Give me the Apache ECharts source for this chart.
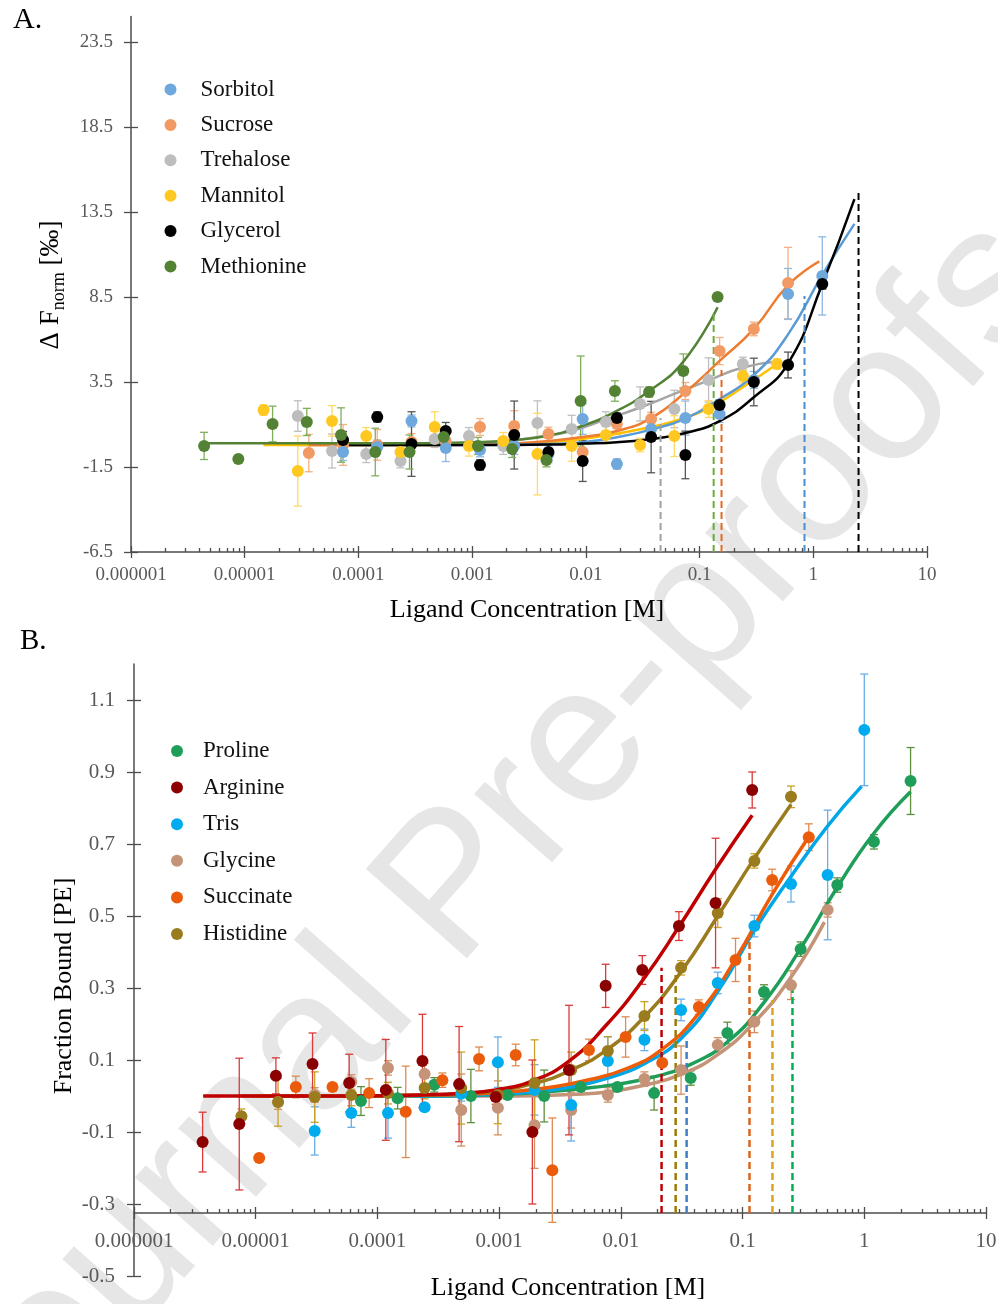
<!DOCTYPE html>
<html>
<head>
<meta charset="utf-8">
<title>Ligand binding curves</title>
<script src="https://cdn.jsdelivr.net/npm/echarts@6.0.0/dist/echarts.min.js"></script>
<style>
  html, body { margin: 0; padding: 0; background: #fff; }
  #chart { width: 998px; height: 1304px; }
</style>
</head>
<body>
<div id="chart"></div>
<script>
'use strict';

// ---- axis ticks ----
var decadeTicks = [0.000001, 0.00001, 0.0001, 0.001, 0.01, 0.1, 1, 10];
var yTicksA = [-6.5, -1.5, 3.5, 8.5, 13.5, 18.5, 23.5];
var yTicksB = [-0.5, -0.3, -0.1, 0.1, 0.3, 0.5, 0.7, 0.9, 1.1];

// ---- panel A (delta Fnorm, per mille) ----
var glycerolConc = [1.2, 0.6, 0.3, 0.15, 0.075, 0.0375, 0.01875, 0.009375, 0.0046875, 0.0023438, 0.0011719, 0.00058594, 0.00029297, 0.00014648, 0.000073242];
var glycerolVal = [9.26, 4.5, 3.5, 2.15, -0.79, 0.26, 1.38, -1.15, -0.62, 0.38, -1.38, 0.62, -0.15, 1.44, 0.09];
var glycerolErr = [0.3, 0.76, 1.4, 0.3, 1.4, 2.1, 0.3, 1.2, 0.5, 2.0, 0.3, 0.5, 1.9, 0.3, 0.5];
var glycerolFitConc = [0.000073, 0.000146, 0.000293, 0.000586, 0.00117, 0.00234, 0.00469, 0.00938, 0.01875, 0.0375, 0.075, 0.15, 0.3, 0.6, 1.2, 2.3];
var glycerolFitVal = [-0.2, -0.2, -0.2, -0.2, -0.2, -0.2, -0.18, -0.12, -0.04, 0.15, 0.5, 1.2, 2.6, 4.6, 9.26, 14.26];

var sorbitolConc = [1.2, 0.6, 0.3, 0.15, 0.075, 0.0375, 0.01875, 0.009375, 0.0046875, 0.0023438, 0.0011719, 0.00058594, 0.00029297, 0.00014648, 0.000073242];
var sorbitolVal = [9.74, 8.68, 3.62, 1.62, 1.38, 0.74, -1.32, 1.32, -0.74, -0.26, -0.5, -0.38, 1.21, -0.32, -0.62];
var sorbitolErr = [2.3, 1.5, 0.5, 0.5, 1.0, 0.5, 0.3, 0.9, 0.5, 0.5, 0.4, 0.8, 0.35, 0.4, 0.5];
var sorbitolFitConc = [0.000073, 0.000146, 0.000293, 0.000586, 0.00117, 0.00234, 0.00469, 0.00938, 0.01875, 0.0375, 0.075, 0.15, 0.3, 0.6, 1.2, 2.3];
var sorbitolFitVal = [-0.2, -0.2, -0.2, -0.2, -0.2, -0.18, -0.15, -0.05, 0.25, 0.7, 1.35, 2.5, 3.9, 6.3, 9.8, 12.8];

var sucroseConc = [0.6, 0.3, 0.15, 0.075, 0.0375, 0.01875, 0.009375, 0.0046875, 0.0023438, 0.0011719, 0.00058594, 0.00029297, 0.00014648, 0.000073242, 0.000036621];
var sucroseVal = [9.32, 6.62, 5.32, 2.97, 1.32, 1.03, -0.62, 0.44, 0.91, 0.85, 0.0, -0.03, -0.2, -0.2, -0.68];
var sucroseErr = [2.1, 0.4, 0.8, 0.5, 0.4, 0.6, 0.5, 0.4, 0.9, 0.5, 0.4, 0.5, 0.9, 1.2, 1.1];
var sucroseFitConc = [0.0000366, 0.000073, 0.000146, 0.000293, 0.000586, 0.00117, 0.00234, 0.00469, 0.00938, 0.01875, 0.0375, 0.075, 0.15, 0.3, 0.6, 1.13];
var sucroseFitVal = [-0.2, -0.2, -0.2, -0.2, -0.2, -0.18, -0.12, 0.03, 0.26, 0.62, 1.38, 2.9, 4.74, 6.62, 9.2, 10.6];

var trehaloseConc = [0.24, 0.12, 0.06, 0.03, 0.015, 0.0075, 0.00375, 0.001875, 0.0009375, 0.00046875, 0.00023438, 0.00011719, 0.000058594, 0.000029297];
var trehaloseVal = [4.56, 3.62, 1.91, 2.21, 1.15, 0.74, 1.09, -0.26, 0.32, 0.15, -1.15, -0.74, -0.56, 1.5];
var trehaloseErr = [0.4, 1.3, 1.1, 1.0, 0.6, 0.8, 1.3, 0.5, 0.5, 0.5, 0.4, 0.5, 1.0, 0.9];
var trehaloseFitConc = [0.0000293, 0.0000586, 0.000117, 0.000234, 0.000469, 0.000938, 0.001875, 0.00375, 0.0075, 0.015, 0.03, 0.06, 0.12, 0.24, 0.48];
var trehaloseFitVal = [-0.2, -0.2, -0.2, -0.2, -0.18, -0.12, 0.0, 0.26, 0.62, 1.3, 2.0, 2.8, 3.6, 4.35, 4.7];

var mannitolConc = [0.48, 0.24, 0.12, 0.06, 0.03, 0.015, 0.0075, 0.00375, 0.001875, 0.0009375, 0.00046875, 0.00023438, 0.00011719, 0.000058594, 0.000029297, 0.000014648];
var mannitolVal = [4.56, 3.85, 1.91, 0.32, -0.21, 0.38, -0.26, -0.74, 0.03, -0.26, 0.85, -0.62, 0.32, 1.21, -1.74, 1.85];
var mannitolErr = [0.3, 0.4, 0.5, 1.2, 0.4, 0.5, 0.9, 2.4, 0.5, 0.6, 0.9, 0.4, 0.5, 0.9, 2.06, 0.3];
var mannitolFitConc = [0.0000146, 0.0000293, 0.0000586, 0.000117, 0.000234, 0.000469, 0.000938, 0.001875, 0.00375, 0.0075, 0.015, 0.03, 0.06, 0.12, 0.24, 0.48];
var mannitolFitVal = [-0.2, -0.2, -0.2, -0.2, -0.2, -0.2, -0.18, -0.15, -0.08, 0.07, 0.35, 0.72, 1.2, 1.95, 3.2, 4.56];

var methionineConc = [0.144, 0.072, 0.036, 0.018, 0.009, 0.0045, 0.00225, 0.001125, 0.0005625, 0.00028125, 0.00014063, 0.000070313, 0.000035156, 0.000017578, 0.0000087891, 0.0000043945];
var methionineVal = [8.5, 4.15, 2.91, 2.97, 2.38, -1.09, -0.44, -0.26, 0.26, -0.62, -0.62, 0.38, 1.15, 1.03, -1.03, -0.26];
var methionineErr = [0.2, 1.0, 0.3, 0.6, 2.65, 0.4, 0.5, 0.5, 0.5, 1.0, 1.4, 1.6, 0.8, 1.05, 0.2, 0.8];
var methionineFitConc = [0.0000044, 0.0000088, 0.0000176, 0.0000352, 0.0000703, 0.000141, 0.000281, 0.000563, 0.001125, 0.00225, 0.0045, 0.009, 0.018, 0.036, 0.072, 0.144];
var methionineFitVal = [-0.1, -0.1, -0.1, -0.1, -0.1, -0.1, -0.1, -0.08, -0.03, 0.08, 0.32, 0.88, 1.74, 2.97, 4.7, 7.9];

// Kd markers of panel A: gray, green, orange, blue, black
var kdA = [0.0454, 0.133, 0.156, 0.837, 2.5];
var kdTopA = [1.38, 7.6, 4.2, 8.56, 14.7];

// ---- panel B (fraction bound) ----
var prolineConc = [2.4, 1.2, 0.6, 0.3, 0.15, 0.075, 0.0375, 0.01875, 0.009375, 0.0046875, 0.0023438, 0.0011719, 0.00058594, 0.00029297, 0.00014648, 0.000073242];
var prolineVal = [0.875, 0.706, 0.586, 0.408, 0.289, 0.175, 0.05, 0.008, 0.025, 0.025, 0.0, 0.003, 0.0, 0.031, -0.006, -0.014];
var prolineErr = [0.093, 0.02, 0.02, 0.02, 0.02, 0.03, 0.02, 0.047, 0.01, 0.01, 0.072, 0.01, 0.074, 0.02, 0.03, 0.04];
var prolineFitConc = [0.000073, 0.000146, 0.000293, 0.000586, 0.00117, 0.00234, 0.00469, 0.00938, 0.01875, 0.0375, 0.075, 0.15, 0.3, 0.6, 1.2, 2.4];
var prolineFitVal = [0.0, 0.0, 0.0, 0.002, 0.005, 0.011, 0.02, 0.033, 0.053, 0.088, 0.15, 0.26, 0.41, 0.58, 0.73, 0.845];

var arginineConc = [0.12, 0.06, 0.03, 0.015, 0.0075, 0.00375, 0.001875, 0.0009375, 0.00046875, 0.00023438, 0.00011719, 0.000058594, 0.000029297, 0.000014648, 0.0000073242, 0.0000036621];
var arginineVal = [0.85, 0.536, 0.472, 0.35, 0.306, 0.072, -0.1, -0.003, 0.033, 0.097, 0.017, 0.036, 0.089, 0.056, -0.078, -0.128];
var arginineErr = [0.05, 0.18, 0.04, 0.04, 0.06, 0.18, 0.2, 0.02, 0.16, 0.13, 0.14, 0.08, 0.086, 0.05, 0.183, 0.083];
var arginineFitConc = [0.0000037, 0.0000073, 0.0000146, 0.0000293, 0.0000586, 0.000117, 0.000234, 0.000469, 0.000938, 0.001875, 0.00375, 0.0075, 0.015, 0.03, 0.06, 0.12];
var arginineFitVal = [0.0, 0.0, 0.0, 0.0, 0.0, 0.001, 0.003, 0.007, 0.017, 0.042, 0.097, 0.195, 0.32, 0.47, 0.63, 0.78];

var trisConc = [1.0, 0.5, 0.25, 0.125, 0.0625, 0.03125, 0.015625, 0.0078125, 0.0039063, 0.0019531, 0.00097656, 0.00048828, 0.00024414, 0.00012207, 0.000061035, 0.000030518];
var trisVal = [1.017, 0.614, 0.589, 0.472, 0.314, 0.239, 0.156, 0.097, -0.025, 0.017, 0.094, 0.006, -0.031, -0.047, -0.047, -0.097];
var trisErr = [0.155, 0.18, 0.05, 0.03, 0.03, 0.03, 0.03, 0.067, 0.1, 0.07, 0.07, 0.02, 0.01, 0.07, 0.04, 0.067];
var trisFitConc = [0.0000305, 0.000061, 0.000122, 0.000244, 0.000488, 0.000977, 0.00195, 0.0039, 0.0078, 0.0156, 0.03125, 0.0625, 0.125, 0.25, 0.5, 0.95];
var trisFitVal = [0.0, 0.0, 0.0, 0.0, 0.002, 0.005, 0.012, 0.025, 0.05, 0.09, 0.16, 0.29, 0.46, 0.61, 0.75, 0.86];

var glycineConc = [0.5, 0.25, 0.125, 0.0625, 0.03125, 0.015625, 0.0078125, 0.0039063, 0.0019531, 0.00097656, 0.00048828, 0.00024414, 0.00012207, 0.000061035, 0.000030518, 0.000015259];
var glycineVal = [0.517, 0.308, 0.206, 0.142, 0.072, 0.047, 0.003, -0.039, -0.081, -0.033, -0.039, 0.061, 0.078, 0.039, 0.003, -0.017];
var glycineErr = [0.02, 0.04, 0.03, 0.02, 0.067, 0.02, 0.02, 0.05, 0.12, 0.075, 0.1, 0.03, 0.02, 0.02, 0.02, 0.02];
var glycineFitConc = [0.0000153, 0.0000305, 0.000061, 0.000122, 0.000244, 0.000488, 0.000977, 0.00195, 0.0039, 0.0078, 0.0156, 0.03125, 0.0625, 0.125, 0.25, 0.47];
var glycineFitVal = [0.0, 0.0, 0.0, 0.0, 0.0, 0.0, 0.0, 0.001, 0.004, 0.011, 0.03, 0.06, 0.115, 0.205, 0.33, 0.483];

var succinateConc = [0.35, 0.175, 0.0875, 0.04375, 0.021875, 0.010938, 0.0054688, 0.0027344, 0.0013672, 0.00068359, 0.0003418, 0.0001709, 0.000085449, 0.000042725, 0.000021362, 0.000010681];
var succinateVal = [0.719, 0.6, 0.378, 0.247, 0.092, 0.164, 0.128, -0.206, 0.114, 0.103, 0.044, -0.044, 0.008, 0.025, 0.025, -0.172];
var succinateErr = [0.037, 0.03, 0.06, 0.02, 0.01, 0.056, 0.03, 0.145, 0.03, 0.033, 0.02, 0.127, 0.04, 0.01, 0.03, 0.01];
var succinateFitConc = [0.0000107, 0.0000214, 0.0000427, 0.0000854, 0.000171, 0.000342, 0.000684, 0.00137, 0.00273, 0.00547, 0.0109, 0.0219, 0.0438, 0.0875, 0.175, 0.35];
var succinateFitVal = [0.0, 0.0, 0.0, 0.0, 0.001, 0.003, 0.006, 0.013, 0.025, 0.045, 0.075, 0.13, 0.23, 0.38, 0.56, 0.72];

var histidineConc = [0.25, 0.125, 0.0625, 0.03125, 0.015625, 0.0078125, 0.0039063, 0.0019531, 0.00097656, 0.00048828, 0.00024414, 0.00012207, 0.000061035, 0.000030518, 0.000015259, 0.0000076294];
var histidineVal = [0.831, 0.653, 0.508, 0.356, 0.222, 0.125, 0.072, 0.036, 0.003, 0.022, 0.022, 0.008, 0.003, -0.003, -0.017, -0.056];
var histidineErr = [0.03, 0.02, 0.04, 0.02, 0.04, 0.04, 0.05, 0.12, 0.08, 0.1, 0.03, 0.03, 0.03, 0.07, 0.067, 0.02];
var histidineFitConc = [0.0000076, 0.0000153, 0.0000305, 0.000061, 0.000122, 0.000244, 0.000488, 0.000977, 0.00195, 0.0039, 0.0078, 0.0156, 0.03125, 0.0625, 0.125, 0.25];
var histidineFitVal = [0.0, 0.0, 0.0, 0.0, 0.001, 0.003, 0.006, 0.015, 0.035, 0.072, 0.13, 0.22, 0.345, 0.5, 0.66, 0.81];

// Kd markers of panel B: arginine, histidine, tris, succinate, glycine, proline
var kdB = [0.0216, 0.0282, 0.0347, 0.114, 0.176, 0.257];
var kdTopB = [0.356, 0.342, 0.164, 0.447, 0.267, 0.322];

// ---- layout ----
var SERIF = '"Liberation Serif", "Times New Roman", serif';
var AXIS = '#4d4d4d';
var LABEL = '#595959';
var yMinA = -6.5, yMaxA = 25;
var yMinB = -0.5, yMaxB = 1.2, crossB = -0.325;
var gridA = { left: 131, width: 796, top: 16.5, height: 535.5 };
var gridB = { left: 134, width: 852, top: 664, height: 612 };

var minorTicks = [];
decadeTicks.slice(0, -1).forEach(function (d) {
    for (var k = 2; k <= 9; k++) minorTicks.push(+(d * k).toPrecision(3));
});

function decimalLabel(v) {
    var e = Math.round(Math.log(v) / Math.LN10);
    return e >= 0 ? String(Math.pow(10, e)) : '0.' + new Array(-e).join('0') + '1';
}

function concAxes(gridIndex, offset, fontSize, margin) {
    var tickLine = { color: AXIS, width: 1.3 };
    var base = {
        gridIndex: gridIndex, type: 'log', logBase: 10, min: 0.000001, max: 10,
        position: 'bottom', offset: offset, splitLine: { show: false }
    };
    return [
        Object.assign({}, base, {
            axisLine: { show: true, onZero: false, lineStyle: { color: AXIS, width: 1.5 } },
            axisTick: { show: true, customValues: decadeTicks, length: 6, lineStyle: tickLine },
            axisLabel: { show: true, customValues: decadeTicks, formatter: decimalLabel, color: LABEL,
                fontFamily: SERIF, fontSize: fontSize, margin: margin }
        }),
        Object.assign({}, base, {
            axisLine: { show: false, onZero: false },
            axisTick: { show: true, inside: true, customValues: decadeTicks, length: 6, lineStyle: tickLine },
            axisLabel: { show: false }
        }),
        Object.assign({}, base, {
            axisLine: { show: false, onZero: false },
            axisTick: { show: true, inside: true, customValues: minorTicks, length: 4, lineStyle: tickLine },
            axisLabel: { show: false }
        })
    ];
}

function valueAxes(gridIndex, min, max, ticks, fontSize, margin) {
    var tickLine = { color: AXIS, width: 1.3 };
    var base = { gridIndex: gridIndex, type: 'value', min: min, max: max, position: 'left', splitLine: { show: false } };
    return [
        Object.assign({}, base, {
            axisLine: { show: true, onZero: false, lineStyle: { color: AXIS, width: 1.5 } },
            axisTick: { show: true, customValues: ticks, length: 7, lineStyle: tickLine },
            axisLabel: { show: true, customValues: ticks, formatter: function (v) { return v.toFixed(1); },
                color: LABEL, fontFamily: SERIF, fontSize: fontSize, margin: margin }
        }),
        Object.assign({}, base, {
            axisLine: { show: false, onZero: false },
            axisTick: { show: true, inside: true, customValues: ticks, length: 7, lineStyle: tickLine },
            axisLabel: { show: false }
        })
    ];
}

function renderErrorBar(params, api) {
    var x = api.value(0), y = api.value(1), e = api.value(2);
    var hi = api.coord([x, y + e]);
    var lo = api.coord([x, y - e]);
    var w = 4;
    var style = { stroke: api.visual('color'), lineWidth: 1.3 };
    return {
        type: 'group',
        children: [
            { type: 'line', shape: { x1: hi[0], y1: hi[1], x2: lo[0], y2: lo[1] }, style: style },
            { type: 'line', shape: { x1: hi[0] - w, y1: hi[1], x2: hi[0] + w, y2: hi[1] }, style: style },
            { type: 'line', shape: { x1: lo[0] - w, y1: lo[1], x2: lo[0] + w, y2: lo[1] }, style: style }
        ]
    };
}

function pairs(xs, ys) {
    return xs.map(function (x, i) { return [x, ys[i]]; });
}

var errSeries = [], fitSeries = [], dashSeries = [], pointSeries = [];

function addCompound(ax, name, conc, val, err, fitConc, fitVal, colors, lineWidth, size) {
    errSeries.push({
        type: 'custom', name: name + ' error', xAxisIndex: ax[0], yAxisIndex: ax[1], z: 2,
        renderItem: renderErrorBar, itemStyle: { color: colors[2] }, encode: { x: 0, y: 1 },
        data: conc.map(function (c, i) { return [c, val[i], err[i]]; }), silent: true
    });
    fitSeries.push({
        type: 'line', name: name + ' fit', xAxisIndex: ax[0], yAxisIndex: ax[1], z: 3,
        data: pairs(fitConc, fitVal), smooth: 0.5, showSymbol: false, silent: true,
        lineStyle: { color: colors[1], width: lineWidth }
    });
    pointSeries.push({
        type: 'scatter', name: name, xAxisIndex: ax[0], yAxisIndex: ax[1], z: 5,
        data: pairs(conc, val), symbol: 'circle', symbolSize: size,
        itemStyle: { color: colors[0], opacity: 1 }
    });
}

function addKd(ax, kd, bottom, top, color, width) {
    dashSeries.push({
        type: 'line', xAxisIndex: ax[0], yAxisIndex: ax[1], z: 4, silent: true,
        data: [[kd, bottom], [kd, top]], showSymbol: false,
        lineStyle: { color: color, width: width, type: [7, 4] }
    });
}

var axA = [0, 0], axB = [3, 2];

addCompound(axA, 'Trehalose', trehaloseConc, trehaloseVal, trehaloseErr, trehaloseFitConc, trehaloseFitVal, ['#BDBDBD', '#A5A5A5', '#BFBFBF'], 2.5, 12);
addCompound(axA, 'Mannitol', mannitolConc, mannitolVal, mannitolErr, mannitolFitConc, mannitolFitVal, ['#FFC820', '#FFC000', '#FFD966'], 2.5, 12);
addCompound(axA, 'Sucrose', sucroseConc, sucroseVal, sucroseErr, sucroseFitConc, sucroseFitVal, ['#F19A63', '#ED7D31', '#F4B183'], 2.5, 12);
addCompound(axA, 'Sorbitol', sorbitolConc, sorbitolVal, sorbitolErr, sorbitolFitConc, sorbitolFitVal, ['#6FA8DC', '#5B9BD5', '#8FB8E2'], 2.5, 12);
addCompound(axA, 'Glycerol', glycerolConc, glycerolVal, glycerolErr, glycerolFitConc, glycerolFitVal, ['#000000', '#000000', '#555555'], 2.5, 12);
addCompound(axA, 'Methionine', methionineConc, methionineVal, methionineErr, methionineFitConc, methionineFitVal, ['#548235', '#548235', '#7FAF5A'], 2.5, 12);

var kdColorsA = ['#A0A0A0', '#6BAA3C', '#E2691E', '#4A8CD0', '#000000'];
kdA.forEach(function (kd, i) { addKd(axA, kd, yMinA, kdTopA[i], kdColorsA[i], 2); });

addCompound(axB, 'Glycine', glycineConc, glycineVal, glycineErr, glycineFitConc, glycineFitVal, ['#C49378', '#C49378', '#D49060'], 3.5, 12);
addCompound(axB, 'Proline', prolineConc, prolineVal, prolineErr, prolineFitConc, prolineFitVal, ['#1F9E5A', '#1F9E5A', '#5E8F3E'], 3.5, 12);
addCompound(axB, 'Tris', trisConc, trisVal, trisErr, trisFitConc, trisFitVal, ['#00ACEE', '#00A6E6', '#6AAEE6'], 3.5, 12);
addCompound(axB, 'Succinate', succinateConc, succinateVal, succinateErr, succinateFitConc, succinateFitVal, ['#EA5B0C', '#EE5C08', '#E08A4E'], 3.5, 12);
addCompound(axB, 'Histidine', histidineConc, histidineVal, histidineErr, histidineFitConc, histidineFitVal, ['#9A7B1E', '#9A7B1E', '#C9A227'], 3.5, 12);
addCompound(axB, 'Arginine', arginineConc, arginineVal, arginineErr, arginineFitConc, arginineFitVal, ['#8B0000', '#C00000', '#D93A3A'], 3.5, 12);

var kdColorsB = ['#C00000', '#9C7A00', '#3F7FC4', '#D9671E', '#DDA31C', '#00B050'];
kdB.forEach(function (kd, i) { addKd(axB, kd, crossB, kdTopB[i], kdColorsB[i], 2.5); });

var offsetB = -(crossB - yMinB) / (yMaxB - yMinB) * gridB.height;

var legendText = { fontFamily: SERIF, fontSize: 23, color: '#111', lineHeight: 24 };

var option = {
    animation: false,
    backgroundColor: '#fff',
    grid: [
        Object.assign({ outerBoundsMode: 'none', containLabel: false }, gridA),
        Object.assign({ outerBoundsMode: 'none', containLabel: false }, gridB)
    ],
    xAxis: concAxes(0, 0, 19, 14).concat(concAxes(1, offsetB, 21, 18)),
    yAxis: valueAxes(0, yMinA, yMaxA, yTicksA, 19, 18).concat(valueAxes(1, yMinB, yMaxB, yTicksB, 21, 19)),
    legend: [
        {
            data: ['Sorbitol', 'Sucrose', 'Trehalose', 'Mannitol', 'Glycerol', 'Methionine'],
            orient: 'vertical', left: 164.5, top: 77.5, padding: 0, itemGap: 11.4,
            itemWidth: 50, itemHeight: 12, icon: 'circle', selectedMode: false, textStyle: legendText
        },
        {
            data: ['Proline', 'Arginine', 'Tris', 'Glycine', 'Succinate', 'Histidine'],
            orient: 'vertical', left: 171, top: 739, padding: 0, itemGap: 12.6,
            itemWidth: 42, itemHeight: 12, icon: 'circle', selectedMode: false, textStyle: legendText
        }
    ],
    graphic: {
        elements: [
            {
                type: 'text', z: -10, x: 488, y: 853, rotation: 48.5 * Math.PI / 180, silent: true,
                style: { text: 'Journal Pre-proofs', fill: '#e6e6e6', font: '196px "Liberation Sans", Arial, sans-serif',
                    align: 'center', verticalAlign: 'middle' }
            },
            { type: 'text', x: 13, y: 20, style: { text: 'A.', fill: '#000', font: '30px ' + SERIF, align: 'left', verticalAlign: 'middle' } },
            { type: 'text', x: 20, y: 641, style: { text: 'B.', fill: '#000', font: '29px ' + SERIF, align: 'left', verticalAlign: 'middle' } },
            {
                type: 'text', x: 51, y: 285, rotation: Math.PI / 2,
                style: {
                    text: '{m|\u0394 F}{s|norm}{m| [\u2030]}', align: 'center', verticalAlign: 'middle',
                    rich: {
                        m: { fontFamily: SERIF, fontSize: 27, lineHeight: 35, fill: '#000' },
                        s: { fontFamily: SERIF, fontSize: 18, lineHeight: 18, verticalAlign: 'bottom', fill: '#000' }
                    }
                }
            },
            { type: 'text', x: 527, y: 610, style: { text: 'Ligand Concentration [M]', fill: '#000', font: '26px ' + SERIF, align: 'center', verticalAlign: 'middle' } },
            { type: 'text', x: 64, y: 986, rotation: Math.PI / 2, style: { text: 'Fraction Bound [PE]', fill: '#000', font: '26px ' + SERIF, align: 'center', verticalAlign: 'middle' } },
            { type: 'text', x: 568, y: 1288, style: { text: 'Ligand Concentration [M]', fill: '#000', font: '26px ' + SERIF, align: 'center', verticalAlign: 'middle' } }
        ]
    },
    series: errSeries.concat(fitSeries, dashSeries, pointSeries)
};

var chart = echarts.init(document.getElementById('chart'), null, { renderer: 'canvas' });
chart.setOption(option);
window.addEventListener('resize', function () { chart.resize(); });
</script>
</body>
</html>
